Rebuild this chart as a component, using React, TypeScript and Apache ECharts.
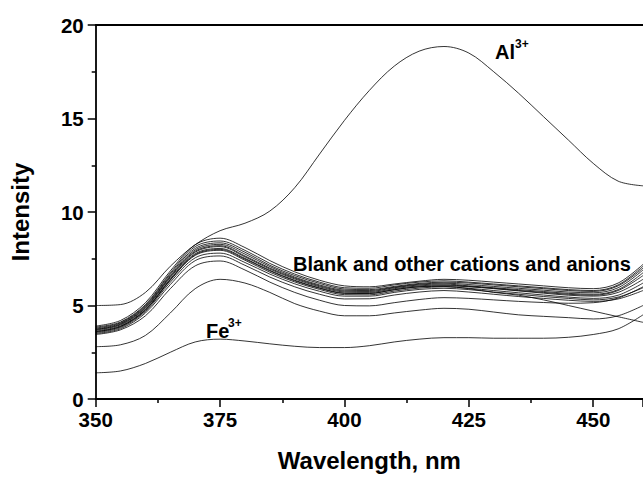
import React, { useEffect, useRef } from "react";
import * as echarts from "echarts";

const wavelengths = [350, 355, 360, 365, 370, 375, 380, 385, 390, 395, 400, 405, 410, 415, 420, 425, 430, 435, 440, 445, 450, 455, 460];

const alSeries = [5.0, 5.05, 5.7, 7.1, 8.25, 9.0, 9.4, 10.05, 11.3, 13.1, 14.9, 16.5, 17.8, 18.6, 18.85, 18.5, 17.5, 16.35, 15.1, 13.85, 12.6, 11.65, 11.4];
const feSeries = [1.4, 1.5, 1.9, 2.5, 3.05, 3.2, 3.1, 2.95, 2.82, 2.75, 2.75, 2.85, 3.05, 3.2, 3.28, 3.28, 3.25, 3.25, 3.25, 3.3, 3.45, 3.75, 4.5];
const otherB = [2.8, 2.9, 3.4, 4.6, 5.9, 6.4, 6.2, 5.7, 5.1, 4.7, 4.45, 4.45, 4.6, 4.75, 4.85, 4.8, 4.65, 4.5, 4.42, 4.35, 4.28, 4.45, 5.0];
const other1 = [3.9, 4.2, 5.15, 6.85, 8.25, 8.6, 8.1, 7.4, 6.8, 6.35, 6.05, 6.0, 6.15, 6.3, 6.4, 6.35, 6.25, 6.15, 6.05, 5.95, 5.9, 6.2, 7.2];
const other2 = [3.85, 4.12, 5.05, 6.75, 8.15, 8.45, 7.95, 7.25, 6.68, 6.25, 5.95, 5.92, 6.1, 6.25, 6.32, 6.25, 6.15, 6.05, 5.95, 5.85, 5.8, 6.1, 7.1];
const other3 = [3.8, 4.08, 5.0, 6.68, 8.05, 8.35, 7.85, 7.15, 6.6, 6.18, 5.88, 5.85, 6.02, 6.18, 6.25, 6.2, 6.1, 6.0, 5.9, 5.8, 5.75, 6.05, 7.0];
const other4 = [3.75, 4.04, 4.95, 6.6, 7.97, 8.27, 7.75, 7.08, 6.52, 6.1, 5.82, 5.8, 5.98, 6.14, 6.2, 6.12, 6.02, 5.92, 5.82, 5.72, 5.68, 5.95, 6.9];
const other5 = [3.72, 4.0, 4.9, 6.55, 7.9, 8.2, 7.65, 7.0, 6.47, 6.05, 5.77, 5.75, 5.95, 6.1, 6.15, 6.05, 5.95, 5.85, 5.75, 5.65, 5.6, 5.85, 6.75];
const other6 = [3.7, 3.97, 4.86, 6.5, 7.85, 8.15, 7.6, 6.95, 6.42, 6.0, 5.72, 5.7, 5.9, 6.05, 6.1, 6.02, 5.92, 5.8, 5.7, 5.6, 5.55, 5.8, 6.6];
const other7 = [3.65, 3.92, 4.8, 6.42, 7.77, 8.05, 7.52, 6.88, 6.35, 5.94, 5.66, 5.64, 5.84, 6.0, 6.06, 6.0, 5.9, 5.78, 5.66, 5.55, 5.5, 5.7, 6.4];
const other8 = [3.6, 3.87, 4.74, 6.35, 7.68, 7.95, 7.42, 6.78, 6.26, 5.86, 5.58, 5.57, 5.77, 5.93, 6.0, 5.92, 5.8, 5.68, 5.56, 5.45, 5.38, 5.55, 6.2];
const other9 = [3.55, 3.82, 4.68, 6.25, 7.55, 7.8, 7.3, 6.68, 6.16, 5.76, 5.5, 5.5, 5.7, 5.86, 5.92, 5.85, 5.72, 5.6, 5.48, 5.38, 5.3, 5.45, 5.95];
const other10 = [3.5, 3.76, 4.6, 6.12, 7.4, 7.65, 7.15, 6.52, 6.0, 5.6, 5.35, 5.36, 5.56, 5.72, 5.8, 5.72, 5.6, 5.48, 5.38, 5.28, 5.22, 5.35, 5.8];
const other11 = [3.45, 3.7, 4.45, 5.9, 7.12, 7.38, 6.9, 6.25, 5.7, 5.28, 5.0, 4.98, 5.15, 5.32, 5.42, 5.38, 5.3, 5.22, 5.16, 5.12, 5.15, 5.4, 6.0];
const other12 = [3.6, 3.88, 4.76, 6.38, 7.72, 8.0, 7.48, 6.85, 6.32, 5.92, 5.65, 5.65, 5.85, 6.0, 6.02, 5.9, 5.7, 5.55, 5.3, 5.0, 4.7, 4.4, 4.1];

const allSeries = [alSeries, feSeries, otherB, other1, other2, other3, other4, other5, other6, other7, other8, other9, other10, other11, other12];

const xTitle = "Wavelength, nm";
const yTitle = "Intensity";

const FONT = '"Liberation Sans", Arial, Helvetica, sans-serif';

export default function App() {
  const ref = useRef<HTMLDivElement>(null);
  useEffect(() => {
    if (!ref.current) return;
    const chart = echarts.init(ref.current, null, { renderer: "svg" });
    const txt = (text: string, x: number, y: number, size: number) => ({
      type: "text",
      x,
      y,
      silent: true,
      style: {
        text,
        fill: "#000",
        fontSize: size,
        fontWeight: "bold",
        fontFamily: FONT,
        textAlign: "left",
        textVerticalAlign: "middle",
        align: "left",
        verticalAlign: "middle",
      },
    });
    chart.setOption({
      animation: false,
      backgroundColor: "#fff",
      grid: { left: 95.7, right: 0, top: 25, bottom: 67, containLabel: false },
      xAxis: [
        {
          type: "value",
          min: 350,
          max: 460,
          interval: 25,
          name: xTitle,
          nameLocation: "middle",
          nameGap: 49,
          nameTextStyle: { fontSize: 24, fontWeight: "bold", fontFamily: FONT, color: "#000" },
          axisLine: { show: true, onZero: false, lineStyle: { color: "#000", width: 1.8 } },
          axisTick: { show: true, inside: false, length: 8, lineStyle: { color: "#000", width: 1.5 } },
          minorTick: { show: true, splitNumber: 2, length: 4, lineStyle: { color: "#000", width: 1.5 } },
          axisLabel: { fontSize: 20.5, fontWeight: "bold", fontFamily: FONT, color: "#000", margin: 10, showMaxLabel: false },
          splitLine: { show: false },
          minorSplitLine: { show: false },
        },
        {
          type: "value",
          position: "top",
          min: 350,
          max: 460,
          interval: 25,
          axisLine: { show: true, onZero: false, lineStyle: { color: "#000", width: 1.8 } },
          axisTick: { show: false },
          axisLabel: { show: false },
          splitLine: { show: false },
        },
      ],
      yAxis: {
        type: "value",
        min: 0,
        max: 20,
        interval: 5,
        name: yTitle,
        nameLocation: "middle",
        nameGap: 63,
        nameTextStyle: { fontSize: 24, fontWeight: "bold", fontFamily: FONT, color: "#000" },
        axisLine: { show: true, onZero: false, lineStyle: { color: "#000", width: 1.8 } },
        axisTick: { show: true, inside: false, length: 8, lineStyle: { color: "#000", width: 1.5 } },
        minorTick: { show: true, splitNumber: 2, length: 4, lineStyle: { color: "#000", width: 1.5 } },
        axisLabel: { fontSize: 20.5, fontWeight: "bold", fontFamily: FONT, color: "#000", margin: 12 },
        splitLine: { show: false },
      },
      series: allSeries.map((vals, k) => ({
        type: "line",
        name: "s" + k,
        xAxisIndex: 0,
        data: wavelengths.map((w, i) => [w, vals[i]]),
        showSymbol: false,
        smooth: 0.34,
        silent: true,
        lineStyle: { color: "#000", width: 0.8 },
      })),
      graphic: [
        txt("Al", 495, 52, 20),
        txt("3+", 515, 44, 12),
        txt("Fe", 206, 331, 20),
        txt("3+", 228, 323, 12),
        txt("Blank and other cations and anions", 293, 264, 20),
      ],
    });
    return () => chart.dispose();
  }, []);
  return <div ref={ref} style={{ width: 643, height: 477, position: "absolute", left: 0, top: 0 }} />;
}
